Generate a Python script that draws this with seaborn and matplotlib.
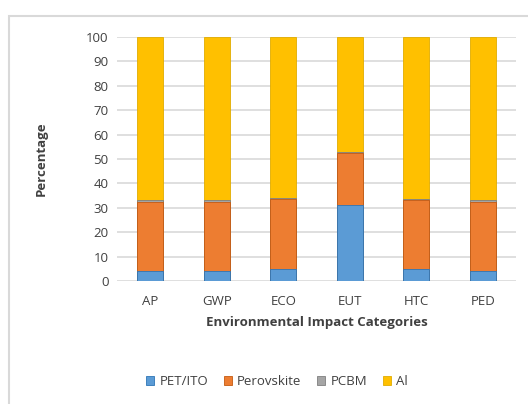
import pandas as pd
import numpy as np
import seaborn as sns
import matplotlib.pyplot as plt
from matplotlib.patches import Patch, Rectangle

# data (percent of total impact)
categories = ['AP', 'GWP', 'ECO', 'EUT', 'HTC', 'PED']
pet_ito = [4.0, 4.0, 5.0, 31.0, 5.0, 4.0]
perovskite = [28.5, 28.5, 28.5, 21.5, 28.0, 28.5]
pcbm = [0.5, 0.5, 0.5, 0.3, 0.5, 0.5]
al = [100 - a - b - c for a, b, c in zip(pet_ito, perovskite, pcbm)]

series = ['PET/ITO', 'Perovskite', 'PCBM', 'Al']
colors = ['#5B9BD5', '#ED7D31', '#A5A5A5', '#FFC000']
edges = ['#2E75B6', '#C55A11', '#7F7F7F', '#E0AC00']

df = pd.DataFrame({'cat': categories, 'PET/ITO': pet_ito, 'Perovskite': perovskite,
                   'PCBM': pcbm, 'Al': al})
cum = df[series].cumsum(axis=1)

sns.set_style('white')
plt.rcParams['font.family'] = ['Open Sans', 'DejaVu Sans']

fig = plt.figure(figsize=(5.28, 4.04), dpi=100)
ax = fig.add_axes([0.2216, 0.3045, 0.756, 0.604])

# draw stacked bars from the top segment down
for s, c, e in reversed(list(zip(series, colors, edges))):
    sns.barplot(x=df['cat'], y=cum[s], color=c, saturation=1, width=0.39, ax=ax,
                edgecolor=e, linewidth=0.6, zorder=3)

ax.set_ylim(0, 100)
ax.set_xlim(-0.5, 5.5)
ax.set_yticks(range(0, 101, 10))
ax.yaxis.grid(True, color='#D9D9D9', linewidth=1.2, zorder=0)
ax.xaxis.grid(False)
for sp in ax.spines.values():
    sp.set_visible(False)
ax.tick_params(axis='both', length=0, labelsize=9.5, colors='#404040', pad=6)
ax.tick_params(axis='x', pad=10)
ax.set_xlabel('Environmental Impact Categories', fontsize=9.5, fontweight='bold',
              color='#404040', labelpad=6)
ax.set_ylabel('Percentage', fontsize=9.5, fontweight='bold', color='#404040', labelpad=28)

handles = [Patch(facecolor=c, edgecolor=e, linewidth=0.6) for c, e in zip(colors, edges)]
fig.legend(handles, series, loc='center', bbox_to_anchor=(0.525, 0.055), ncol=4,
           frameon=False, fontsize=9.5, handlelength=0.6, handleheight=0.6,
           handletextpad=0.4, columnspacing=1.2, labelcolor='#404040')

# chart area border
fig.patches.append(Rectangle((9 / 528, -0.05), 1.1, 0.05 + (404 - 16) / 404,
                             transform=fig.transFigure, fill=False,
                             edgecolor='#D9D9D9', linewidth=1.5))

fig.savefig('out.png', dpi=100)
